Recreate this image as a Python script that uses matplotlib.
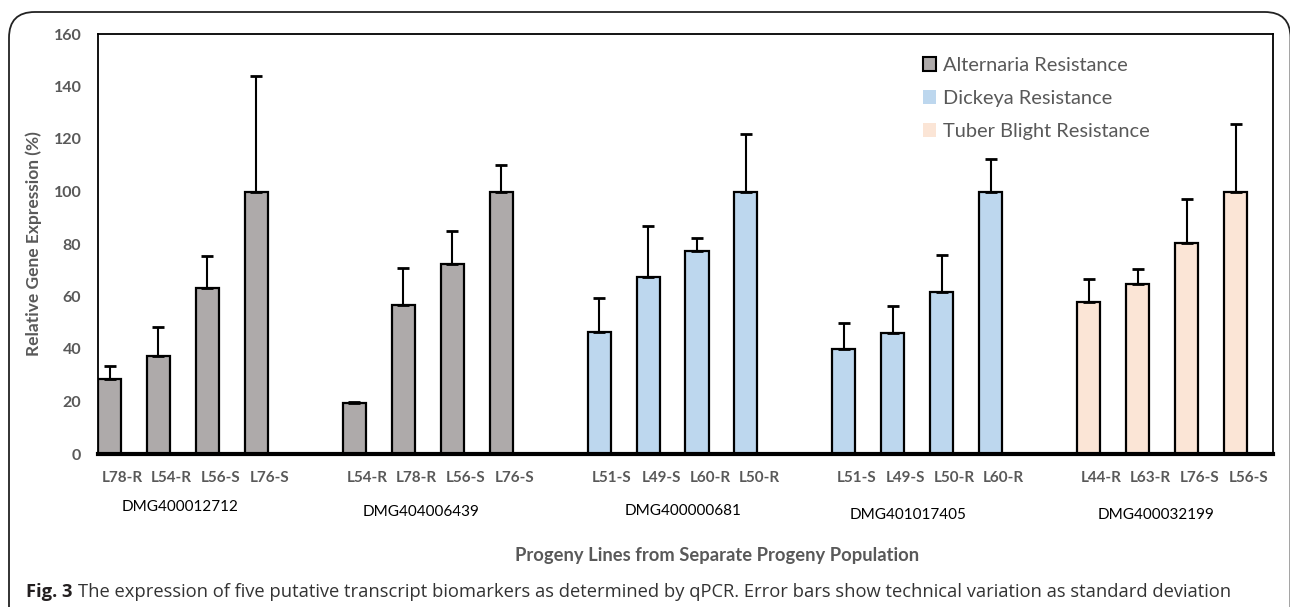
import matplotlib
matplotlib.use('Agg')
import matplotlib.pyplot as plt
from matplotlib.patches import Patch, FancyBboxPatch
import numpy as np

# Bar data: one entry per category slot (None = empty spacer slot)
labels = ['L78-R', 'L54-R', 'L56-S', 'L76-S', '',
          'L54-R', 'L78-R', 'L56-S', 'L76-S', '',
          'L51-S', 'L49-S', 'L60-R', 'L50-R', '',
          'L51-S', 'L49-S', 'L50-R', 'L60-R', '',
          'L44-R', 'L63-R', 'L76-S', 'L56-S']
values = [28.5, 37.3, 63.4, 100, None,
          19.3, 56.8, 72.5, 100, None,
          46.3, 67.4, 77.3, 100, None,
          40.0, 46.0, 61.8, 100, None,
          58.0, 64.6, 80.5, 100]
errors = [4.9, 11.0, 11.9, 43.9, None,
          0.7, 14.2, 12.5, 10.2, None,
          13.0, 19.5, 5.0, 22.0, None,
          10.0, 10.4, 13.9, 12.3, None,
          8.5, 6.0, 16.5, 25.6]
series = ['Alternaria Resistance'] * 4 + [None] + ['Alternaria Resistance'] * 4 + [None] + \
         ['Dickeya Resistance'] * 4 + [None] + ['Dickeya Resistance'] * 4 + [None] + \
         ['Tuber Blight Resistance'] * 4
genes = ['DMG400012712', 'DMG404006439', 'DMG400000681', 'DMG401017405', 'DMG400032199']

colors = {'Alternaria Resistance': '#aeaaaa',
          'Dickeya Resistance': '#bdd7ee',
          'Tuber Blight Resistance': '#fbe5d6'}

W, H = 1290, 607
fig = plt.figure(figsize=(W / 100, H / 100), dpi=100)
ax = fig.add_axes([98 / W, (H - 454) / H, 1175 / W, 420 / H])

gray = '#595959'
font = 'Lato'

for i, v in enumerate(values):
    if v is None:
        continue
    ax.bar(i, v, width=0.47, align='edge', color=colors[series[i]],
           edgecolor='black', linewidth=1.6, zorder=2)
    ax.errorbar(i + 0.235, v, yerr=[[0], [errors[i]]], fmt='none', ecolor='black',
                elinewidth=1.5, capsize=4, capthick=2, zorder=3)

ax.set_xlim(0, 24)
ax.set_ylim(0, 160)
ax.set_yticks(np.arange(0, 161, 20))
ax.set_xticks(np.arange(len(labels)) + 0.5)
ax.set_xticklabels(labels)
ax.tick_params(axis='both', length=0, labelsize=11, labelcolor=gray)
ax.tick_params(axis='y', labelsize=11.5, pad=12)
ax.tick_params(axis='x', pad=12)
for t in ax.get_xticklabels() + ax.get_yticklabels():
    t.set_fontweight('bold')
    t.set_fontfamily(font)

for s in ['left', 'top', 'right']:
    ax.spines[s].set_linewidth(1.3)
ax.spines['bottom'].set_linewidth(3)

ax.set_ylabel('Relative Gene Expression (%)', fontsize=12.5, fontweight='bold',
              color=gray, family=font, labelpad=8)

# gene labels under each group
gene_x = [1.67, 6.6, 11.96, 16.55, 21.62]
gene_y = [507, 512, 511, 515, 515]
for g, gx, gy in zip(genes, gene_x, gene_y):
    ax.text(gx, (454 - gy) / 420.0, g, transform=ax.get_xaxis_transform(), fontsize=11,
            family=font, color='black', ha='center', va='center')

fig.text(717 / W, 1 - 556 / H, 'Progeny Lines from Separate Progeny Population',
         fontsize=13.2, fontweight='bold', color=gray, family=font, ha='center', va='center')

handles = [Patch(facecolor=colors['Alternaria Resistance'], edgecolor='black', linewidth=1.5),
           Patch(facecolor=colors['Dickeya Resistance'], edgecolor='none'),
           Patch(facecolor=colors['Tuber Blight Resistance'], edgecolor='none')]
leg = ax.legend(handles, list(colors.keys()), loc='upper left',
                bbox_to_anchor=(905 / W, 1 - 39 / H), bbox_transform=fig.transFigure,
                frameon=False, handlelength=0.65, handleheight=0.65, handletextpad=0.35,
                labelspacing=0.8, prop={'family': font, 'size': 14.4})
for t in leg.get_texts():
    t.set_color(gray)

# outer rounded frame
frame = FancyBboxPatch((9 / W, -0.2), (1290.5 - 9) / W, 1.2 - 12 / H,
                       boxstyle='round,pad=0,rounding_size=0.02', transform=fig.transFigure,
                       facecolor='none', edgecolor='#222222', linewidth=1.3,
                       mutation_aspect=W / H)
fig.patches.append(frame)

# caption
cap_y = 1 - 592 / H
t1 = fig.text(26 / W, cap_y, 'Fig. 3', fontsize=13.2, fontweight='bold', family='Open Sans',
              color='#231f20', va='center')
fig.canvas.draw()
bb = t1.get_window_extent()
fig.text((bb.x1 + 5) / W, cap_y,
         'The expression of five putative transcript biomarkers as determined by qPCR. '
         'Error bars show technical variation as standard deviation',
         fontsize=13.2, family='Open Sans', color='#333333', va='center')

fig.savefig('out.png', dpi=100)
